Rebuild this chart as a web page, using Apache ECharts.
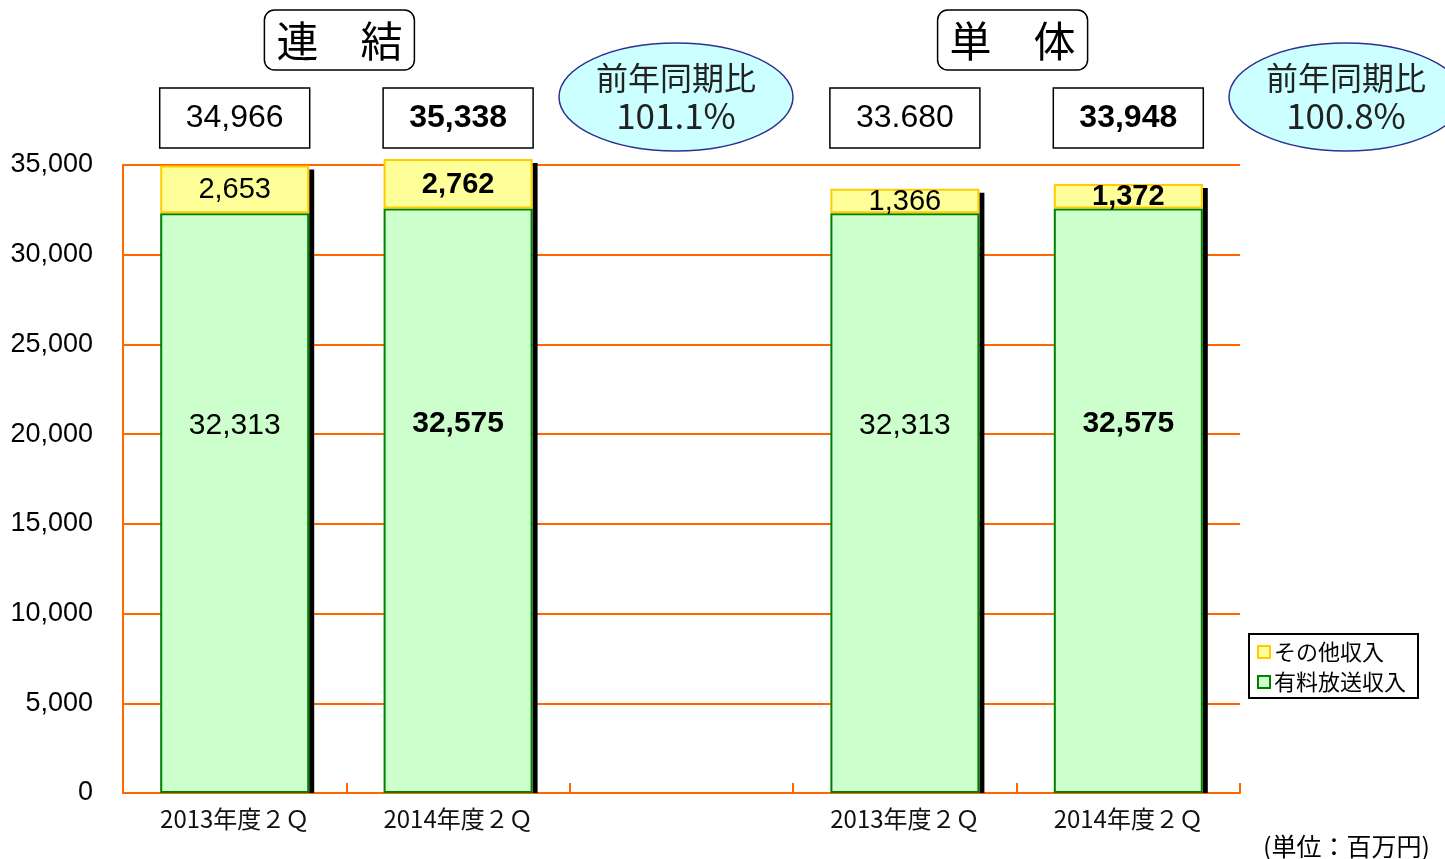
<!DOCTYPE html>
<html>
<head>
<meta charset="utf-8">
<script src="https://cdn.jsdelivr.net/npm/echarts@6/dist/echarts.min.js"></script>
<style>
  html, body { margin: 0; padding: 0; background: #fff; }
  #chart { width: 1445px; height: 859px; }
</style>
</head>
<body>
<div id="chart"></div>
<script>
// 連結 / 単体 の収入（百万円）
const categories = ['2013年度２Ｑ', '2014年度２Ｑ', '', '2013年度２Ｑ', '2014年度２Ｑ']
const broadcastIncome = [32313, 32575, null, 32313, 32575] // 有料放送収入
const otherIncome = [2653, 2762, null, 1366, 1372] // その他収入
const totals = ['34,966', '35,338', '', '33.680', '33,948']
const boldFlags = [false, true, false, false, true]
const groupTitles = ['連　結', '単　体']
const yoyRates = ['101.1%', '100.8%']
const yTicks = [0, 5000, 10000, 15000, 20000, 25000, 30000, 35000]

const ORANGE = '#FF6600'
const JP = '"Noto Sans CJK JP", sans-serif'
const NUM = '"Liberation Sans", Arial, sans-serif'
const BAR_W = 149

function fmt(v) {
  return String(v).replace(/\B(?=(\d{3})+(?!\d))/g, ',')
}

let myChart = echarts.init(document.getElementById('chart'))

let option = {
  animation: false,
  grid: {
    left: 123,
    right: 205,
    top: 165,
    bottom: 66,
  },
  legend: {
    data: ['その他収入', '有料放送収入'],
    orient: 'vertical',
    left: 1249,
    top: 634,
    padding: [7, 12, 5, 8],
    itemGap: 8,
    itemWidth: 12,
    itemHeight: 12,
    icon: 'rect',
    borderColor: '#000',
    borderWidth: 2,
    textStyle: {
      fontFamily: JP,
      fontSize: 22,
      color: '#000',
      padding: [0, 0, 0, -1],
    },
  },
  xAxis: {
    type: 'category',
    data: categories,
    axisLine: {
      lineStyle: { color: ORANGE, width: 2 },
    },
    axisTick: {
      show: true,
      inside: true,
      length: 10,
      lineStyle: { color: ORANGE, width: 2 },
    },
    axisLabel: {
      color: '#111',
      fontFamily: JP,
      fontSize: 24,
      margin: 14,
    },
  },
  yAxis: {
    type: 'value',
    min: yTicks[0],
    max: yTicks[yTicks.length - 1],
    interval: 5000,
    axisLine: {
      show: true,
      lineStyle: { color: ORANGE, width: 2 },
    },
    axisTick: { show: false },
    splitLine: {
      lineStyle: { color: ORANGE, width: 2 },
    },
    axisLabel: {
      color: '#000',
      fontFamily: NUM,
      fontSize: 27,
      margin: 30,
      formatter: (v) => fmt(v),
    },
  },
  series: [
    {
      // 棒の右側の黒い影
      name: 'shadow',
      type: 'custom',
      z: 1,
      silent: true,
      clip: false,
      data: categories.map((c, i) =>
        broadcastIncome[i] == null ? null : [i, broadcastIncome[i] + otherIncome[i]]
      ),
      renderItem: (params, api) => {
        let top = api.coord([api.value(0), api.value(1)])
        let base = api.coord([api.value(0), 0])
        return {
          type: 'rect',
          shape: {
            x: top[0] + BAR_W / 2,
            y: top[1] + 4,
            width: 5,
            height: base[1] - top[1] - 4,
          },
          style: { fill: '#000' },
        }
      },
    },
    {
      name: '有料放送収入',
      type: 'bar',
      stack: 'total',
      barWidth: BAR_W,
      barGap: '-100%',
      clip: false,
      z: 3,
      data: broadcastIncome.map((v, i) => ({
        value: v,
        label: { fontWeight: boldFlags[i] ? 'bold' : 'normal' },
      })),
      itemStyle: {
        color: '#CCFFCC',
        borderColor: '#008000',
        borderWidth: 2,
      },
      label: {
        show: true,
        position: 'inside',
        offset: [0, -77],
        color: '#000',
        fontFamily: NUM,
        fontSize: 30,
        formatter: (p) => fmt(p.value),
      },
    },
    {
      name: 'その他収入',
      type: 'bar',
      stack: 'total',
      barWidth: BAR_W,
      clip: false,
      z: 3,
      data: otherIncome.map((v, i) => ({
        value: v,
        label: { fontWeight: boldFlags[i] ? 'bold' : 'normal' },
      })),
      itemStyle: {
        color: '#FFFF99',
        borderColor: '#FFCC00',
        borderWidth: 2,
      },
      label: {
        show: true,
        position: 'inside',
        offset: [0, 1],
        color: '#000',
        fontFamily: NUM,
        fontSize: 29,
        formatter: (p) => fmt(p.value),
      },
    },
  ],
}

myChart.setOption(option)

// 図形（合計ボックス・見出し・前年同期比）
function buildGraphics() {
  let px = categories.map((c, i) => myChart.convertToPixel({ xAxisIndex: 0 }, i))
  let els = []

  totals.forEach((t, i) => {
    if (!t) return
    els.push({
      type: 'rect',
      shape: { x: px[i] - 75, y: 88, width: 150, height: 60 },
      style: { fill: '#fff', stroke: '#000', lineWidth: 1.5 },
    })
    els.push({
      type: 'text',
      x: px[i],
      y: 118,
      style: {
        text: t,
        fill: '#000',
        font: (boldFlags[i] ? 'bold ' : '') + '32px ' + NUM,
        align: 'center',
        verticalAlign: 'middle',
      },
    })
  })

  let groupCenters = [(px[0] + px[1]) / 2 - 7, (px[3] + px[4]) / 2 - 4]
  groupTitles.forEach((g, i) => {
    let cx = groupCenters[i]
    els.push({
      type: 'rect',
      shape: { x: cx - 75, y: 10, width: 150, height: 60, r: 10 },
      style: { fill: '#fff', stroke: '#000', lineWidth: 1.5 },
    })
    els.push({
      type: 'text',
      x: cx,
      y: 41,
      style: {
        text: g,
        fill: '#000',
        font: '42px ' + JP,
        align: 'center',
        verticalAlign: 'middle',
      },
    })
  })

  let ovalCenters = [676, 1346]
  yoyRates.forEach((r, i) => {
    let cx = ovalCenters[i]
    els.push({
      type: 'ellipse',
      shape: { cx: cx, cy: 97, rx: 117, ry: 54 },
      style: { fill: '#CCFFFF', stroke: '#2E3192', lineWidth: 1.5 },
    })
    els.push({
      type: 'text',
      x: cx,
      y: 78,
      style: {
        text: '前年同期比',
        fill: '#222',
        font: '32px ' + JP,
        align: 'center',
        verticalAlign: 'middle',
      },
    })
    els.push({
      type: 'text',
      x: cx,
      y: 116,
      style: {
        text: r,
        fill: '#222',
        font: '35px ' + JP,
        align: 'center',
        verticalAlign: 'middle',
      },
    })
  })

  els.push({
    type: 'text',
    x: 1263,
    y: 846,
    style: {
      text: '(単位：百万円)',
      fill: '#000',
      font: '25px ' + JP,
      align: 'left',
      verticalAlign: 'middle',
    },
  })

  myChart.setOption({ graphic: { elements: els } })
}

buildGraphics()

window.addEventListener('resize', () => {
  myChart.resize()
  buildGraphics()
})
</script>
</body>
</html>
